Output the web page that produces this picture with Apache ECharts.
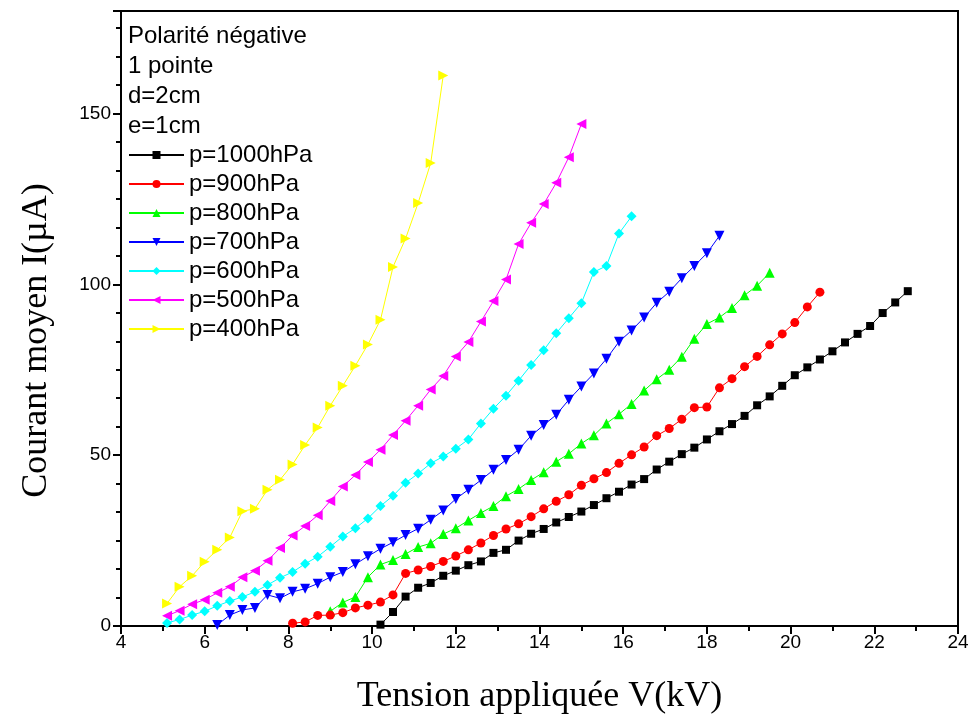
<!DOCTYPE html>
<html>
<head>
<meta charset="utf-8">
<script src="https://cdn.jsdelivr.net/npm/echarts@6/dist/echarts.min.js"></script>
<style>
html,body{margin:0;padding:0;background:#fff;}
#chart{width:973px;height:724px;}
</style>
</head>
<body>
<div id="chart"></div>
<script>
// ---- data (Tension V in kV, Courant I in µA) ----
const seriesNames = ['p=1000hPa','p=900hPa','p=800hPa','p=700hPa','p=600hPa','p=500hPa','p=400hPa'];
const infoLines = ['Polarité négative','1 pointe','d=2cm','e=1cm'];
const xTicks = [4,6,8,10,12,14,16,18,20,22,24];
const yTicks = [0,50,100,150];

const v1000 = [10.2,10.5,10.8,11.1,11.4,11.7,12.0,12.3,12.6,12.9,13.2,13.5,13.8,14.1,14.4,14.7,15.0,15.3,15.6,15.9,16.2,16.5,16.8,17.1,17.4,17.7,18.0,18.3,18.6,18.9,19.2,19.5,19.8,20.1,20.4,20.7,21.0,21.3,21.6,21.9,22.2,22.5,22.8];
const i1000 = [0.4,4.1,8.6,11.2,12.6,14.7,16.2,17.8,18.9,21.4,22.3,25.0,27.0,28.4,30.3,31.9,33.5,35.4,37.4,39.3,41.4,43.0,45.8,48.1,50.3,52.2,54.6,57.0,59.1,61.5,64.6,67.2,70.3,73.4,75.7,78.0,80.4,83.0,85.5,87.8,91.6,94.7,98.0];

const v900 = [8.1,8.4,8.7,9.0,9.3,9.6,9.9,10.2,10.5,10.8,11.1,11.4,11.7,12.0,12.3,12.6,12.9,13.2,13.5,13.8,14.1,14.4,14.7,15.0,15.3,15.6,15.9,16.2,16.5,16.8,17.1,17.4,17.7,18.0,18.3,18.6,18.9,19.2,19.5,19.8,20.1,20.4,20.7];
const i900 = [0.8,1.2,3.1,3.2,3.9,5.3,6.1,7.0,9.1,15.4,16.4,17.4,18.9,20.5,22.3,24.3,26.5,28.4,29.9,32.0,34.3,36.5,38.4,41.2,43.1,44.9,47.6,50.1,52.4,55.7,57.8,60.5,63.9,64.1,69.7,72.4,75.9,78.9,82.3,85.5,88.8,93.4,97.7];

const v800 = [9.0,9.3,9.6,9.9,10.2,10.5,10.8,11.1,11.4,11.7,12.0,12.3,12.6,12.9,13.2,13.5,13.8,14.1,14.4,14.7,15.0,15.3,15.6,15.9,16.2,16.5,16.8,17.1,17.4,17.7,18.0,18.3,18.6,18.9,19.2,19.5];
const i800 = [4.3,6.9,8.5,14.3,18.0,19.3,21.1,23.1,24.2,26.9,28.6,30.9,33.1,35.1,38.0,40.1,42.7,45.0,48.1,50.4,53.4,55.8,59.3,62.0,65.0,68.9,72.2,75.0,78.8,84.1,88.4,90.3,93.1,96.8,99.6,103.4];

const v700 = [6.3,6.6,6.9,7.2,7.5,7.8,8.1,8.4,8.7,9.0,9.3,9.6,9.9,10.2,10.5,10.8,11.1,11.4,11.7,12.0,12.3,12.6,12.9,13.2,13.5,13.8,14.1,14.4,14.7,15.0,15.3,15.6,15.9,16.2,16.5,16.8,17.1,17.4,17.7,18.0,18.3];
const i700 = [0.3,3.2,4.7,5.3,9.1,8.1,10.0,10.9,12.4,14.3,15.8,18.1,20.4,22.6,24.5,26.6,28.5,31.1,33.8,37.2,39.9,42.7,45.7,48.6,51.6,55.7,58.8,61.8,66.2,70.1,73.9,78.2,83.2,86.5,90.3,94.6,97.8,101.8,105.4,109.1,114.2];

const v600 = [5.1,5.4,5.7,6.0,6.3,6.6,6.9,7.2,7.5,7.8,8.1,8.4,8.7,9.0,9.3,9.6,9.9,10.2,10.5,10.8,11.1,11.4,11.7,12.0,12.3,12.6,12.9,13.2,13.5,13.8,14.1,14.4,14.7,15.0,15.3,15.6,15.9,16.2];
const i600 = [0.9,1.9,3.2,4.3,5.9,7.3,8.5,10.0,12.0,14.1,15.8,18.2,20.3,23.2,26.2,28.6,31.5,35.1,38.1,41.9,44.6,47.6,49.6,51.9,54.6,59.3,63.6,67.4,71.8,76.4,80.7,85.7,90.1,94.5,103.6,105.4,114.9,119.9];

const v500 = [5.1,5.4,5.7,6.0,6.3,6.6,6.9,7.2,7.5,7.8,8.1,8.4,8.7,9.0,9.3,9.6,9.9,10.2,10.5,10.8,11.1,11.4,11.7,12.0,12.3,12.6,12.9,13.2,13.5,13.8,14.1,14.4,14.7,15.0];
const i500 = [3.0,4.5,6.4,7.7,9.7,11.5,14.3,16.2,19.1,22.8,26.5,29.3,32.4,36.6,40.8,44.2,48.0,51.6,55.9,60.1,64.5,69.2,73.2,78.9,83.1,89.1,95.1,101.4,111.8,118.0,123.5,129.7,137.2,146.9];

const v400 = [5.1,5.4,5.7,6.0,6.3,6.6,6.9,7.2,7.5,7.8,8.1,8.4,8.7,9.0,9.3,9.6,9.9,10.2,10.5,10.8,11.1,11.4,11.7];
const i400 = [6.6,11.5,14.7,18.8,22.3,25.9,33.6,34.3,39.9,42.8,47.3,53.0,58.1,64.5,70.3,76.2,82.4,89.6,105.1,113.4,123.8,135.5,161.1];

// ---- styling ----
const xs = [v1000,v900,v800,v700,v600,v500,v400];
const ys = [i1000,i900,i800,i700,i600,i500,i400];
const colors = ['#000000','#ff0000','#00ff00','#0000ff','#00ffff','#ff00ff','#ffff00'];
const symbols = ['rect','circle','triangle','triangle','diamond','triangle','triangle'];
const rotates = [0,0,0,180,0,90,-90];
const sizes = [8,9,10,10,10,10,10];

const series = seriesNames.map((name, k) => ({
  name: name,
  type: 'line',
  data: xs[k].map((v, j) => [v, ys[k][j]]),
  symbol: symbols[k],
  symbolRotate: rotates[k],
  symbolSize: sizes[k],
  showAllSymbol: true,
  color: colors[k],
  lineStyle: {width: 1, color: colors[k]},
  itemStyle: {color: colors[k]},
  emphasis: {disabled: true},
  z: 10 - k
}));

const chart = echarts.init(document.getElementById('chart'), null, {renderer: 'canvas'});
chart.setOption({
  animation: false,
  backgroundColor: '#ffffff',
  grid: {left: 121, right: 15, top: 11, bottom: 98, show: true, borderColor: '#000', borderWidth: 2, backgroundColor: 'transparent'},
  xAxis: {
    type: 'value', min: xTicks[0], max: xTicks[xTicks.length - 1], interval: 2,
    name: 'Tension appliquée V(kV)', nameLocation: 'middle', nameGap: 53,
    nameTextStyle: {fontFamily: 'Liberation Serif', fontSize: 36, color: '#000'},
    axisLine: {show: true, lineStyle: {color: '#000', width: 2}},
    axisTick: {show: true, length: 8, lineStyle: {color: '#000', width: 2}},
    minorTick: {show: true, splitNumber: 2, length: 5, lineStyle: {color: '#000', width: 2}},
    axisLabel: {fontFamily: 'Liberation Sans', fontSize: 19, color: '#000', margin: 7},
    splitLine: {show: false}
  },
  yAxis: {
    type: 'value', min: yTicks[0], max: 180, interval: 50,
    name: 'Courant moyen I(µA)', nameLocation: 'middle', nameGap: 66,
    nameTextStyle: {fontFamily: 'Liberation Serif', fontSize: 36, color: '#000', padding: [0, 44, 0, 0]},
    axisLine: {show: true, lineStyle: {color: '#000', width: 2}},
    axisTick: {show: true, length: 8, lineStyle: {color: '#000', width: 2}},
    minorTick: {show: true, splitNumber: 6, length: 5, lineStyle: {color: '#000', width: 2}},
    axisLabel: {fontFamily: 'Liberation Sans', fontSize: 19, color: '#000', margin: 10, showMaxLabel: false},
    splitLine: {show: false}
  },
  legend: {
    data: seriesNames,
    orient: 'vertical', left: 128, top: 143, padding: 0,
    itemWidth: 55, itemHeight: 10, itemGap: 5,
    selectedMode: false,
    textStyle: {fontFamily: 'Liberation Sans', fontSize: 24, color: '#000'}
  },
  graphic: infoLines.map((t, k) => ({
    type: 'text', left: 128, top: 24 + k * 30,
    style: {text: t, font: '24px "Liberation Sans"', fill: '#000'}
  })),
  series: series
});
</script>
</body>
</html>
